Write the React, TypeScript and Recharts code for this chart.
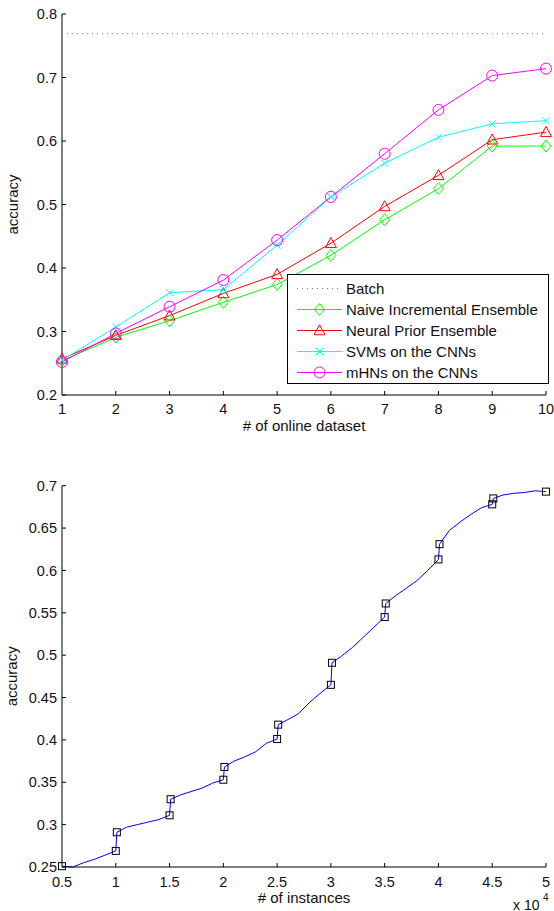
import {
  LineChart, ComposedChart, Line, Scatter, XAxis, YAxis, Legend,
} from 'recharts';

const FONT = '"Liberation Sans", Arial, Helvetica, sans-serif';
const INK = '#111';

// top chart: accuracy per online dataset
const ROUNDS = [1, 2, 3, 4, 5, 6, 7, 8, 9, 10];
const BATCH = 0.769;
const NAIVE = [0.254, 0.291, 0.317, 0.346, 0.374, 0.420, 0.476, 0.525, 0.592, 0.592];
const NEURAL = [0.257, 0.294, 0.325, 0.360, 0.390, 0.439, 0.497, 0.546, 0.602, 0.614];
const SVM = [0.255, 0.307, 0.361, 0.366, 0.436, 0.512, 0.565, 0.606, 0.627, 0.632];
const MHN = [0.252, 0.297, 0.339, 0.381, 0.444, 0.512, 0.580, 0.649, 0.703, 0.714];
const TOP_TICKS = [0.2, 0.3, 0.4, 0.5, 0.6, 0.7, 0.8];

// bottom chart: accuracy vs # of instances (x 10^4)
const INST = [
  0.5, 0.6, 0.7, 0.8, 0.9, 1.0,
  1.01, 1.1, 1.2, 1.3, 1.4, 1.5,
  1.51, 1.6, 1.7, 1.8, 1.9, 2.0,
  2.01, 2.1, 2.2, 2.3, 2.4, 2.5,
  2.51, 2.6, 2.7, 2.8, 2.9, 3.0,
  3.01, 3.1, 3.2, 3.3, 3.4, 3.5,
  3.51, 3.6, 3.7, 3.8, 3.9, 4.0,
  4.01, 4.1, 4.2, 4.3, 4.4, 4.5,
  4.51, 4.6, 4.7, 4.8, 4.9, 5.0,
];
const INST_ACC = [
  0.251, 0.250, 0.255, 0.259, 0.264, 0.269,
  0.291, 0.297, 0.300, 0.303, 0.306, 0.311,
  0.330, 0.335, 0.339, 0.343, 0.349, 0.353,
  0.368, 0.375, 0.380, 0.386, 0.396, 0.401,
  0.418, 0.424, 0.431, 0.444, 0.455, 0.465,
  0.491, 0.499, 0.509, 0.521, 0.533, 0.545,
  0.561, 0.570, 0.579, 0.588, 0.600, 0.613,
  0.631, 0.647, 0.657, 0.666, 0.674, 0.678,
  0.685, 0.689, 0.691, 0.692, 0.694, 0.693,
];
const MARK_X = [0.5, 1.0, 1.01, 1.5, 1.51, 2.0, 2.01, 2.5, 2.51, 3.0, 3.01, 3.5, 3.51, 4.0, 4.01, 4.5, 4.51, 5.0];
const MARK_ACC = [0.251, 0.269, 0.291, 0.311, 0.330, 0.353, 0.368, 0.401, 0.418, 0.465, 0.491, 0.545, 0.561, 0.613, 0.631, 0.678, 0.685, 0.693];
const INST_TICKS = [0.5, 1, 1.5, 2, 2.5, 3, 3.5, 4, 4.5, 5];
const ACC_TICKS = [0.25, 0.3, 0.35, 0.4, 0.45, 0.5, 0.55, 0.6, 0.65, 0.7];

type MarkerKind = 'none' | 'diamond' | 'triangle' | 'cross' | 'circle';

const SERIES: { key: string; name: string; color: string; marker: MarkerKind; dash?: string }[] = [
  { key: 'batch', name: 'Batch', color: '#777', marker: 'none', dash: '1 4' },
  { key: 'naive', name: 'Naive Incremental Ensemble', color: '#00ff00', marker: 'diamond' },
  { key: 'neural', name: 'Neural Prior Ensemble', color: '#ff0000', marker: 'triangle' },
  { key: 'svm', name: 'SVMs on the CNNs', color: '#00ffff', marker: 'cross' },
  { key: 'mhn', name: 'mHNs on the CNNs', color: '#ff00ff', marker: 'circle' },
];

const topRows = ROUNDS.map((x, i) => ({
  x,
  batch: BATCH,
  naive: NAIVE[i],
  neural: NEURAL[i],
  svm: SVM[i],
  mhn: MHN[i],
}));

const curveRows = INST.map((x, i) => ({ x, acc: INST_ACC[i] }));
const markRows = MARK_X.map((x, i) => ({ x, acc: MARK_ACC[i] }));

function Marker({ kind, cx, cy, color }: { kind: MarkerKind; cx: number; cy: number; color: string }) {
  switch (kind) {
    case 'diamond':
      return <polygon points={`${cx},${cy - 6} ${cx + 5},${cy} ${cx},${cy + 6} ${cx - 5},${cy}`} fill="none" stroke={color} />;
    case 'triangle':
      return <polygon points={`${cx},${cy - 5.7} ${cx + 5.5},${cy + 4.3} ${cx - 5.5},${cy + 4.3}`} fill="none" stroke={color} />;
    case 'cross':
      return <path d={`M${cx - 3.5},${cy - 3.5}L${cx + 3.5},${cy + 3.5}M${cx - 3.5},${cy + 3.5}L${cx + 3.5},${cy - 3.5}`} stroke={color} fill="none" />;
    case 'circle':
      return <circle cx={cx} cy={cy} r={5.5} fill="none" stroke={color} />;
    default:
      return null;
  }
}

const tickStyle = { fontSize: 14.5, fill: INK, fontFamily: FONT };

function YTitle({ viewBox }: any) {
  const cy = viewBox.y + viewBox.height / 2;
  return (
    <text x={17.5} y={cy} transform={`rotate(-90 17.5 ${cy})`} textAnchor="middle" fontSize={15} fill={INK} fontFamily={FONT}>
      accuracy
    </text>
  );
}

function TopXTitle({ viewBox }: any) {
  return (
    <text x={viewBox.x + viewBox.width / 2} y={viewBox.y + 36} textAnchor="middle" fontSize={15} fill={INK} fontFamily={FONT}>
      # of online dataset
    </text>
  );
}

function BottomXTitle({ viewBox }: any) {
  const right = viewBox.x + viewBox.width;
  return (
    <g fontFamily={FONT} fill={INK}>
      <text x={viewBox.x + viewBox.width / 2} y={viewBox.y + 36} textAnchor="middle" fontSize={15}>
        # of instances
      </text>
      <text x={right - 33} y={viewBox.y + 43} fontSize={14}>x 10</text>
      <text x={right - 3} y={viewBox.y + 34} fontSize={10}>4</text>
    </g>
  );
}

function TopLegend() {
  return (
    <div
      style={{
        width: 262,
        height: 110,
        boxSizing: 'border-box',
        border: '1px solid #000',
        background: '#fff',
        paddingTop: 3,
        fontFamily: FONT,
        fontSize: 15,
        color: INK,
      }}
    >
      {SERIES.map((s) => (
        <div key={s.key} style={{ display: 'flex', alignItems: 'center', height: 21 }}>
          <svg width={58} height={21} style={{ flexShrink: 0 }}>
            <line x1={9} x2={54} y1={10.5} y2={10.5} stroke={s.color} strokeDasharray={s.dash} />
            <Marker kind={s.marker} cx={31.5} cy={10.5} color={s.color} />
          </svg>
          <span style={{ whiteSpace: 'nowrap' }}>{s.name}</span>
        </div>
      ))}
    </div>
  );
}

export default function App() {
  return (
    <div style={{ position: 'absolute', left: 0, top: 0, width: 554, height: 911, background: '#fff' }}>
      <div style={{ position: 'absolute', left: 0, top: 0 }}>
        <LineChart width={554} height={440} data={topRows} margin={{ top: 14, right: 8, left: 0, bottom: 0 }}>
          <XAxis
            dataKey="x"
            type="number"
            domain={[1, 10]}
            ticks={ROUNDS}
            interval={0}
            height={45}
            tickSize={-4}
            tickMargin={13}
            tick={tickStyle}
            axisLine={{ stroke: '#000' }}
            tickLine={{ stroke: '#000' }}
            label={<TopXTitle />}
          />
          <YAxis
            type="number"
            domain={[0.2, 0.8]}
            ticks={TOP_TICKS}
            interval={0}
            width={62}
            tickSize={-4}
            tickMargin={9}
            tick={tickStyle}
            tickFormatter={(v: number) => v.toFixed(1)}
            axisLine={{ stroke: '#7f7f7f', strokeWidth: 2 }}
            tickLine={{ stroke: '#000' }}
            label={<YTitle />}
          />
          {SERIES.map((s) => (
            <Line
              key={s.key}
              dataKey={s.key}
              name={s.name}
              type="linear"
              stroke={s.color}
              strokeWidth={1}
              strokeDasharray={s.dash}
              isAnimationActive={false}
              dot={
                s.marker === 'none'
                  ? false
                  : (p: any) => <Marker key={`${s.key}-${p.index}`} kind={s.marker} cx={p.cx} cy={p.cy} color={s.color} />
              }
              activeDot={false}
            />
          ))}
          <Legend
            layout="horizontal"
            verticalAlign="middle"
            align="center"
            wrapperStyle={{ left: 287, top: 274, width: 262, height: 110 }}
            content={() => <TopLegend />}
          />
        </LineChart>
      </div>

      <div style={{ position: 'absolute', left: 0, top: 440 }}>
        <ComposedChart width={554} height={471} data={curveRows} margin={{ top: 45.7, right: 8, left: 0, bottom: 0 }}>
          <XAxis
            dataKey="x"
            type="number"
            domain={[0.5, 5]}
            ticks={INST_TICKS}
            interval={0}
            height={44}
            tickSize={-4}
            tickMargin={14}
            tick={tickStyle}
            tickFormatter={(v: number) => String(v)}
            axisLine={{ stroke: '#000' }}
            tickLine={{ stroke: '#000' }}
            label={<BottomXTitle />}
          />
          <YAxis
            type="number"
            domain={[0.25, 0.7]}
            ticks={ACC_TICKS}
            interval={0}
            width={62}
            tickSize={-4}
            tickMargin={9}
            tick={tickStyle}
            tickFormatter={(v: number) => String(Number(v.toFixed(2)))}
            axisLine={{ stroke: '#7f7f7f', strokeWidth: 2 }}
            tickLine={{ stroke: '#000' }}
            label={<YTitle />}
          />
          <Line
            dataKey="acc"
            type="linear"
            stroke="#0000ff"
            strokeWidth={1}
            dot={false}
            activeDot={false}
            isAnimationActive={false}
          />
          <Scatter
            data={markRows}
            dataKey="acc"
            isAnimationActive={false}
            shape={(p: any) => (
              <rect x={p.cx - 3.5} y={p.cy - 3.5} width={7} height={7} fill="none" stroke="#000" />
            )}
          />
        </ComposedChart>
      </div>
    </div>
  );
}
